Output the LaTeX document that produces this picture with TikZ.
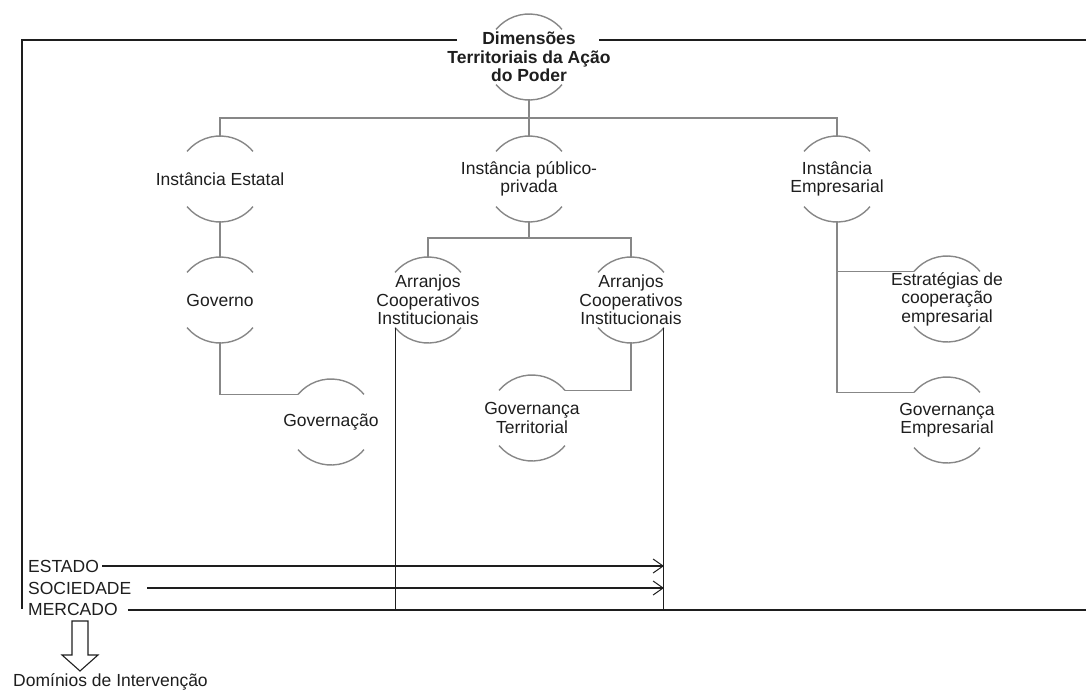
\documentclass[tikz,border=0pt]{standalone}
\usepackage{fontspec}
\setmainfont{Liberation Sans}
\usetikzlibrary{arrows.meta}
\definecolor{linkgray}{RGB}{135,135,135}
\definecolor{inkblack}{RGB}{30,30,30}
\begin{document}
\begin{tikzpicture}[x=1pt,y=1pt,
  lbl/.style={inner sep=0pt, align=center, text=inkblack, font=\fontsize{17.5}{18.5}\selectfont},
  ttl/.style={lbl, font=\fontsize{17.5}{18.5}\selectfont\bfseries},
  link/.style={draw=linkgray, line width=1.4pt},
  arcline/.style={draw=linkgray, line width=1.4pt},
  frame/.style={draw=inkblack, line width=1.1pt},
  flow/.style={frame, -{Straight Barb[length=10pt, width=14pt, line width=1pt]}}
]
\useasboundingbox (0,0) rectangle (1086,-691);

% concept nodes (text only; the split circles are drawn below)
\node[ttl] (dim)  at (529,-57)  {Dimensões\\Territoriais da Ação\\do Poder};
\node[lbl] (est)  at (220,-179) {Instância Estatal};
\node[lbl] (pub)  at (529,-179) {Instância público-\\privada};
\node[lbl] (emp)  at (837,-179) {Instância\\Empresarial};
\node[lbl] (gov)  at (220,-300) {Governo};
\node[lbl] (gvc)  at (331,-422) {Governação};
\node[lbl] (arl)  at (428,-300) {Arranjos\\Cooperativos\\Institucionais};
\node[lbl] (arr)  at (631,-300) {Arranjos\\Cooperativos\\Institucionais};
\node[lbl] (gter) at (532,-418) {Governança\\Territorial};
\node[lbl] (estr) at (947,-299) {Estratégias de\\cooperação\\empresarial};
\node[lbl] (gemp) at (947,-420) {Governança\\Empresarial};

% upper and lower arcs of each split circle
\foreach \n in {dim,est,pub,emp,gov,gvc,arl,arr,gter,estr,gemp}
  \draw[arcline] (\n.center) ++(140:43) arc[start angle=140, end angle=40, radius=43]
                 (\n.center) ++(220:43) arc[start angle=220, end angle=320, radius=43];

% arc end points where connectors attach
\coordinate (gvc-in)  at ([shift={(140:43)}]gvc.center);
\coordinate (gter-in) at ([shift={(40:43)}]gter.center);
\coordinate (estr-in) at ([shift={(140:43)}]estr.center);
\coordinate (gemp-in) at ([shift={(140:43)}]gemp.center);
\coordinate (arl-out) at ([shift={(220:43)}]arl.center);
\coordinate (arr-out) at ([shift={(320:43)}]arr.center);

% tree connectors
\draw[link] ([yshift=-43]dim.center) -- ([yshift=43]pub.center);
\draw[link] ([yshift=43]est.center) -- ([yshift=61]est.center) -| ([yshift=43]emp.center);
\draw[link] ([yshift=-43]est.center) -- ([yshift=43]gov.center);
\draw[link] ([yshift=-43]gov.center) |- (gvc-in);
\draw[link] ([yshift=-43]pub.center) -- ([yshift=-59]pub.center);
\draw[link] ([yshift=43]arl.center) |- ([yshift=-59]pub.center) -| ([yshift=43]arr.center);
\draw[link] ([yshift=-43]arr.center) |- (gter-in);
\draw[link] ([yshift=-43]emp.center) |- (gemp-in);
\draw[link] (estr-in) -- (emp.center |- estr-in);

% domain labels
\node[lbl, anchor=west] (estado) at (28,-566) {ESTADO};
\node[lbl, anchor=west] (soc)    at (28,-588) {SOCIEDADE};
\node[lbl, anchor=west] (merc)   at (28,-609) {MERCADO};
\node[lbl, anchor=west] (dom)    at (13,-682) {Domínios de Intervenção};

% outer frame
\coordinate (ftl) at (22,-40);
\coordinate (fbl) at (22,-609);
\coordinate (ftr) at (1086,-40);
\coordinate (fbr) at (1086,-610);
\draw[frame] ([xshift=-72]dim.center |- ftl) -- (ftl) -- (fbl);
\draw[frame] ([xshift=70]dim.center |- ftl) -- (ftr);

% institutional arrangement boundaries
\draw[frame] (arl-out) -- (arl-out |- fbr);
\draw[frame] (arr-out) -- (arr-out |- fbr);

% domain flows
\draw[flow] ([xshift=3]estado.east) -- (estado -| arr-out);
\draw[flow] ([xshift=16]soc.east) -- (soc -| arr-out);
\draw[frame] ([xshift=10]merc.east |- fbr) -- (fbr);

% hollow down arrow towards the intervention domains
\draw[frame] (72,-621) -- (88,-621) -- (88,-655) -- (98,-655) -- (80,-671)
             -- (62,-655) -- (72,-655) -- cycle;
\end{tikzpicture}
\end{document}
